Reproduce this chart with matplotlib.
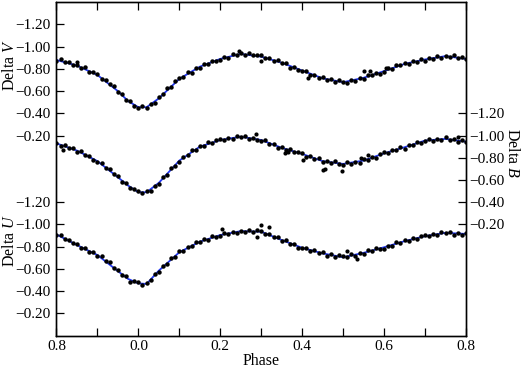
import matplotlib
matplotlib.use('Agg')
import matplotlib.pyplot as plt

plt.rcParams['font.family'] = 'Liberation Serif'
plt.rcParams['mathtext.fontset'] = 'custom'
plt.rcParams['mathtext.rm'] = 'Liberation Serif'
plt.rcParams['mathtext.it'] = 'Liberation Serif:italic'

#----------------------------
#          DATA
#----------------------------
# fitted light curves (blue lines)
fit_phase = [-0.20, -0.15, -0.10, -0.05, -0.025, 0.00, 0.02, 0.05, 0.10, 0.15, 0.20, 0.25,
             0.30, 0.35, 0.40, 0.45, 0.50, 0.55, 0.60, 0.65, 0.70, 0.75, 0.80]
fit_V = [-0.88, -0.83, -0.745, -0.60, -0.51, -0.455, -0.455, -0.535, -0.71, -0.82, -0.89, -0.935,
         -0.91, -0.855, -0.785, -0.715, -0.68, -0.72, -0.78, -0.845, -0.885, -0.915, -0.89]
fit_B = [-0.93, -0.865, -0.77, -0.625, -0.55, -0.49, -0.49, -0.575, -0.775, -0.90, -0.96, -0.99,
         -0.96, -0.89, -0.835, -0.77, -0.745, -0.775, -0.84, -0.895, -0.955, -0.97, -0.945]
fit_U = [-0.91, -0.815, -0.725, -0.58, -0.51, -0.47, -0.465, -0.585, -0.75, -0.845, -0.905, -0.94,
         -0.935, -0.86, -0.79, -0.74, -0.705, -0.745, -0.795, -0.85, -0.895, -0.925, -0.915]

# observations (black dots)
obs_phase = [-0.20, -0.19, -0.18, -0.17, -0.16, -0.15, -0.14, -0.13, -0.12, -0.11,
             -0.10, -0.09, -0.08, -0.07, -0.06, -0.05, -0.04, -0.03, -0.02, -0.01,
             0.00, 0.01, 0.02, 0.03, 0.04, 0.05, 0.06, 0.07, 0.08, 0.09,
             0.10, 0.11, 0.12, 0.13, 0.14, 0.15, 0.16, 0.17, 0.18, 0.19,
             0.20, 0.21, 0.22, 0.23, 0.24, 0.25, 0.26, 0.27, 0.28, 0.29,
             0.30, 0.31, 0.32, 0.33, 0.34, 0.35, 0.36, 0.37, 0.38, 0.39,
             0.40, 0.41, 0.42, 0.43, 0.44, 0.45, 0.46, 0.47, 0.48, 0.49,
             0.50, 0.51, 0.52, 0.53, 0.54, 0.55, 0.56, 0.57, 0.58, 0.59,
             0.60, 0.61, 0.62, 0.63, 0.64, 0.65, 0.66, 0.67, 0.68, 0.69,
             0.70, 0.71, 0.72, 0.73, 0.74, 0.75, 0.76, 0.77, 0.78, 0.79,
             0.80]
obs_V = [-0.870, -0.887, -0.861, -0.864, -0.832, -0.834, -0.807, -0.813, -0.774, -0.775,
         -0.754, -0.712, -0.704, -0.662, -0.648, -0.594, -0.575, -0.520, -0.507, -0.466,
         -0.447, -0.463, -0.449, -0.485, -0.490, -0.547, -0.571, -0.624, -0.637, -0.689,
         -0.722, -0.731, -0.769, -0.767, -0.804, -0.812, -0.848, -0.844, -0.875, -0.870,
         -0.877, -0.904, -0.902, -0.933, -0.924, -0.945, -0.925, -0.942, -0.921, -0.929,
         -0.923, -0.894, -0.900, -0.870, -0.877, -0.851, -0.849, -0.812, -0.814, -0.792,
         -0.781, -0.779, -0.742, -0.744, -0.717, -0.728, -0.699, -0.705, -0.680, -0.697,
         -0.684, -0.672, -0.703, -0.694, -0.720, -0.710, -0.742, -0.741, -0.764, -0.757,
         -0.774, -0.805, -0.800, -0.832, -0.831, -0.854, -0.842, -0.869, -0.862, -0.893,
         -0.875, -0.902, -0.891, -0.914, -0.897, -0.919, -0.907, -0.923, -0.899, -0.910,
         -0.886]
obs_B = [-0.934, -0.910, -0.918, -0.886, -0.888, -0.855, -0.860, -0.826, -0.819, -0.777,
         -0.764, -0.755, -0.705, -0.697, -0.651, -0.634, -0.582, -0.569, -0.527, -0.518,
         -0.502, -0.481, -0.499, -0.502, -0.544, -0.567, -0.628, -0.649, -0.705, -0.725,
         -0.762, -0.809, -0.822, -0.868, -0.874, -0.910, -0.905, -0.942, -0.936, -0.959,
         -0.973, -0.960, -0.982, -0.968, -0.997, -0.986, -0.997, -0.969, -0.979, -0.960,
         -0.950, -0.958, -0.928, -0.927, -0.891, -0.894, -0.871, -0.881, -0.851, -0.856,
         -0.844, -0.809, -0.813, -0.788, -0.796, -0.764, -0.775, -0.750, -0.767, -0.746,
         -0.737, -0.758, -0.744, -0.765, -0.755, -0.787, -0.784, -0.810, -0.801, -0.831,
         -0.850, -0.841, -0.874, -0.869, -0.893, -0.882, -0.911, -0.911, -0.944, -0.937,
         -0.951, -0.967, -0.948, -0.968, -0.959, -0.983, -0.959, -0.970, -0.945, -0.962,
         -0.939]
obs_U = [-0.906, -0.904, -0.865, -0.864, -0.830, -0.828, -0.791, -0.789, -0.751, -0.755,
         -0.717, -0.713, -0.668, -0.658, -0.604, -0.592, -0.548, -0.533, -0.483, -0.487,
         -0.480, -0.455, -0.477, -0.501, -0.554, -0.572, -0.622, -0.643, -0.697, -0.711,
         -0.759, -0.757, -0.794, -0.802, -0.841, -0.839, -0.867, -0.859, -0.893, -0.889,
         -0.895, -0.924, -0.915, -0.935, -0.920, -0.944, -0.932, -0.952, -0.932, -0.947,
         -0.939, -0.912, -0.918, -0.884, -0.885, -0.850, -0.858, -0.828, -0.827, -0.791,
         -0.784, -0.790, -0.760, -0.772, -0.746, -0.749, -0.720, -0.730, -0.711, -0.725,
         -0.717, -0.709, -0.730, -0.716, -0.741, -0.737, -0.768, -0.759, -0.785, -0.775,
         -0.782, -0.810, -0.809, -0.841, -0.833, -0.860, -0.849, -0.880, -0.873, -0.895,
         -0.908, -0.895, -0.917, -0.903, -0.931, -0.921, -0.932, -0.908, -0.923, -0.909,
         -0.919]

# scattered points off the main band
out_V_phase = [-0.15, 0.245, 0.30, 0.415, 0.55, 0.565, 0.605]
out_V = [-0.865, -0.958, -0.868, -0.716, -0.78, -0.782, -0.81]
out_B_phase = [-0.185, 0.287, 0.358, 0.365, 0.402, 0.451, 0.455, 0.497, 0.543, 0.56, 0.78]
out_B = [-0.872, -1.014, -0.841, -0.85, -0.781, -0.692, -0.70, -0.685, -0.796, -0.826, -0.99]
out_U_phase = [0.205, 0.30, 0.32, 0.29, 0.509, 0.535]
out_U = [-0.955, -0.994, -0.976, -0.883, -0.763, -0.689]

ytick_vals = [-1.2, -1.0, -0.8, -0.6, -0.4, -0.2]
ytick_labels = ['\u22121.20', '\u22121.00', '\u22120.80', '\u22120.60', '\u22120.40', '\u22120.20']
xtick_vals = [-0.2, 0.0, 0.2, 0.4, 0.6, 0.8]
xtick_labels = ['0.8', '0.0', '0.2', '0.4', '0.6', '0.8']
xminor_vals = [-0.1, 0.1, 0.3, 0.5, 0.7]

#----------------------------
#          PLOT
#----------------------------
line_col = '#2238f2'
tfs = 11
lfs = 11.5

fig = plt.figure(figsize=(5.23, 3.68), dpi=100)
fig.subplots_adjust(left=0.108, right=0.891, bottom=0.088, top=0.994)
ax = fig.add_subplot(111)
axb = ax.twinx()
axu = ax.twinx()

for a, ph, fit, ox, oy, ex, ey in [(ax, fit_phase, fit_V, obs_phase, obs_V, out_V_phase, out_V),
                                   (axb, fit_phase, fit_B, obs_phase, obs_B, out_B_phase, out_B),
                                   (axu, fit_phase, fit_U, obs_phase, obs_U, out_U_phase, out_U)]:
    a.plot(ph, fit, '-', color=line_col, lw=1.3, zorder=1)
    a.plot(ox, oy, 'o', color='black', ms=3.2, mew=0, zorder=2)
    a.plot(ex, ey, 'o', color='black', ms=3.0, mew=0, zorder=2)

ax.set_xlim(-0.2, 0.8)
ax.set_ylim(1.6, -1.4)
axb.set_ylim(0.8, -2.2)
axu.set_ylim(0.0, -3.0)

ax.set_xticks(xtick_vals)
ax.set_xticklabels(xtick_labels, fontsize=tfs)
ax.set_xticks(xminor_vals, minor=True)
ax.tick_params(axis='x', which='both', direction='in', top=True, length=6, width=0.9, pad=3)

for a in (ax, axb, axu):
    a.set_yticks(ytick_vals)
    a.set_yticklabels(ytick_labels, fontsize=tfs)
    a.tick_params(axis='y', direction='in', length=6, width=0.9)
    for s in a.spines.values():
        s.set_linewidth(0.9)

ax.tick_params(axis='y', pad=4)
axb.tick_params(axis='y', pad=2)
axu.yaxis.tick_left()
axu.tick_params(axis='y', pad=4)

ax.set_xlabel('Phase', fontsize=lfs, labelpad=0)
ax.set_ylabel('Delta $V$', fontsize=lfs)
ax.yaxis.set_label_coords(-0.095, 0.812)
axu.set_ylabel('Delta $U$', fontsize=lfs)
axu.yaxis.set_label_position('left')
axu.yaxis.set_label_coords(-0.095, 0.284)
axb.set_ylabel('Delta $B$', fontsize=lfs, rotation=270)
axb.yaxis.set_label_coords(1.132, 0.548)

plt.savefig('out.png', dpi=100)
